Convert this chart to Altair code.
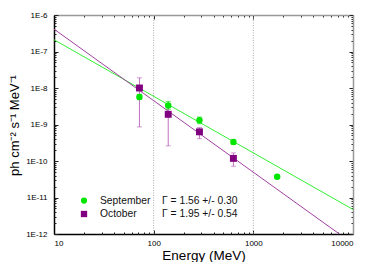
import altair as alt
import pandas as pd

# ---- data ----
sep_energy = [72, 140, 288, 631, 1734]
sep_flux = [5.7e-9, 3.3e-9, 1.3e-9, 3.3e-10, 3.7e-11]
sep_err_energy = [72, 140, 288, 631]
sep_err_lo = [4.8e-9, 2.6e-9, 1.05e-9, 2.85e-10]
sep_err_hi = [6.7e-9, 4.3e-9, 1.6e-9, 3.8e-10]

oct_energy = [72, 140, 288, 631]
oct_flux = [1.0e-8, 1.9e-9, 6.3e-10, 1.18e-10]
oct_err_lo = [8.6e-10, 2.6e-10, 4.1e-10, 7.2e-11]
oct_err_hi = [1.9e-8, 3.4e-9, 8.3e-10, 1.67e-10]

fit_series = ["September", "September", "October", "October"]
fit_energy = [10, 10000, 10, 7300]
fit_flux = [2.1e-7, 4.7e-12, 4.1e-7, 1.0e-12]

ref_energy = [100, 1000]

legend_labels = ["September", "October"]
legend_gamma = ["\u0393 = 1.56 +/- 0.30", "\u0393 = 1.95 +/- 0.54"]

x_major = [10, 100, 1000, 10000]
x_ticks = [10, 20, 30, 40, 50, 60, 70, 80, 90,
           100, 200, 300, 400, 500, 600, 700, 800, 900,
           1000, 2000, 3000, 4000, 5000, 6000, 7000, 8000, 9000, 10000]
y_major = [1e-12, 1e-11, 1e-10, 1e-9, 1e-8, 1e-7, 1e-6]
y_ticks = [m * 10.0 ** e for e in range(-12, -6) for m in range(1, 10)] + [1e-6]

GREEN = "#00e600"
PURPLE = "#800080"
FONT = "Liberation Sans"

xs = alt.Scale(type="log", domain=[10, 10000], nice=False)
ys = alt.Scale(type="log", domain=[1e-12, 1e-6], nice=False)

W, H = 299, 219

major_test = "abs(log(datum.value)/LN10 - round(log(datum.value)/LN10)) < 0.001"
tick_size = {"condition": {"test": major_test, "value": 4}, "value": 2}


def tick_axis(orient, offset, values, domain):
    return alt.Axis(orient=orient, offset=offset, values=values, labels=False,
                    title=None, grid=False, domain=domain, domainColor="#999999",
                    domainWidth=1.5, ticks=True, tickColor="#222222",
                    tickWidth=1, tickSize=tick_size)


ax_x_lab = alt.Axis(orient="bottom", values=x_major, format="d", ticks=False,
                    grid=False, domainColor="#000000", domainWidth=1.5,
                    labelFontSize=8, labelFont=FONT, labelColor="#000000",
                    labelPadding=5, title="Energy (MeV)", titleFont=FONT,
                    titleFontSize=13.5, titleFontWeight="normal",
                    titleColor="#000000", titleY=25, titleBaseline="alphabetic")
ax_y_lab = alt.Axis(orient="left", values=y_major,
                    labelExpr="'1E' + round(log(datum.value)/LN10)",
                    ticks=False, grid=False, domainColor="#000000",
                    domainWidth=1.5, labelFontSize=8, labelFont=FONT,
                    labelColor="#000000", labelPadding=7,
                    title="ph cm\u207b\u00b2 s\u207b\u00b9 MeV\u207b\u00b9",
                    titleFont=FONT, titleFontSize=13, titleFontWeight="normal",
                    titleColor="#000000", titleX=-40, titleY=110,
                    titleBaseline="middle", titleAlign="center")

fit_df = pd.DataFrame({"series": fit_series, "energy": fit_energy, "flux": fit_flux})
sep_df = pd.DataFrame({"energy": sep_energy, "flux": sep_flux})
sep_err_df = pd.DataFrame({"energy": sep_err_energy, "lo": sep_err_lo, "hi": sep_err_hi})
oct_df = pd.DataFrame({"energy": oct_energy, "flux": oct_flux})
oct_err_df = pd.DataFrame({"energy": oct_energy, "lo": oct_err_lo, "hi": oct_err_hi})

vrules = alt.Chart(pd.DataFrame({"energy": ref_energy})).mark_rule(
    color="#aaaaaa", strokeDash=[1, 1.5], strokeWidth=1
).encode(x=alt.X("energy:Q", scale=xs, axis=None))

lines = alt.Chart(fit_df).mark_line(strokeWidth=1, clip=True).encode(
    x=alt.X("energy:Q", scale=xs, axis=ax_x_lab),
    y=alt.Y("flux:Q", scale=ys, axis=ax_y_lab),
    color=alt.Color("series:N", scale=alt.Scale(domain=["September", "October"],
                                                range=["#33ee33", "#a040a0"]),
                    legend=None),
)

sep_err = alt.Chart(sep_err_df).mark_errorbar(ticks=True, color="#22dd22",
                                              thickness=1, size=5).encode(
    x=alt.X("energy:Q", scale=xs, axis=None),
    y=alt.Y("lo:Q", scale=ys, axis=None),
    y2="hi:Q",
)
oct_err = alt.Chart(oct_err_df).mark_errorbar(ticks=True, color="#c070c0",
                                              thickness=1, size=5).encode(
    x=alt.X("energy:Q", scale=xs, axis=None),
    y=alt.Y("lo:Q", scale=ys, axis=None),
    y2="hi:Q",
)

sep_pts = alt.Chart(sep_df).mark_point(filled=True, shape="circle", size=42,
                                       opacity=1, color=GREEN).encode(
    x=alt.X("energy:Q", scale=xs, axis=tick_axis("top", -H, x_ticks, False)),
    y=alt.Y("flux:Q", scale=ys, axis=tick_axis("right", -W, y_ticks, False)),
)
oct_pts = alt.Chart(oct_df).mark_point(filled=True, shape="square", size=48,
                                       opacity=1, color=PURPLE).encode(
    x=alt.X("energy:Q", scale=xs, axis=tick_axis("bottom", -H, x_ticks, True)),
    y=alt.Y("flux:Q", scale=ys, axis=tick_axis("left", -W, y_ticks, True)),
)

legend_layers = []
legend_shapes = ["circle", "square"]
legend_colors = [GREEN, PURPLE]
legend_sizes = [38, 40]
for i in range(2):
    yy = 185.6 + 13.4 * i
    row = pd.DataFrame({"label": [legend_labels[i]], "gamma": [legend_gamma[i]]})
    legend_layers.append(
        alt.Chart(row).mark_point(filled=True, shape=legend_shapes[i],
                                  size=legend_sizes[i], opacity=1,
                                  color=legend_colors[i]).encode(
            x=alt.value(30), y=alt.value(yy))
    )
    legend_layers.append(
        alt.Chart(row).mark_text(align="left", baseline="middle", font=FONT,
                                 fontSize=10.3, color="#111111").encode(
            x=alt.value(46), y=alt.value(yy), text="label:N")
    )
    legend_layers.append(
        alt.Chart(row).mark_text(align="left", baseline="middle", font=FONT,
                                 fontSize=10.3, color="#111111").encode(
            x=alt.value(108), y=alt.value(yy), text="gamma:N")
    )

chart = alt.layer(vrules, lines, sep_err, oct_err, sep_pts, oct_pts, *legend_layers).resolve_axis(
    x="independent", y="independent"
).properties(
    width=W, height=H,
    autosize=alt.AutoSizeParams(type="none"),
    padding={"left": 46, "top": 7, "right": 20, "bottom": 28},
).configure_view(strokeWidth=0)

chart.save("out.html", embed_options={"renderer": "svg", "actions": False})
